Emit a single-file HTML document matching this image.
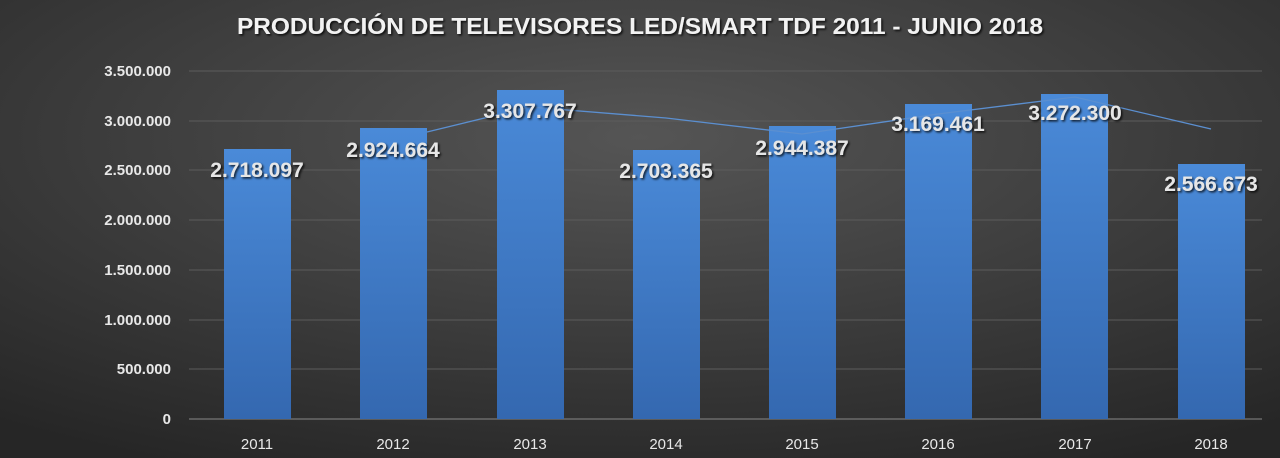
<!DOCTYPE html><html><head><style>body{margin:0;width:1280px;height:458px;overflow:hidden;background:#3a3a3a}</style></head><body>
<svg width="1280" height="458" xmlns="http://www.w3.org/2000/svg" font-family="Liberation Sans, sans-serif" style="display:block">
<defs>
<radialGradient id="bg" cx="0.5" cy="0.3" r="0.8"><stop offset="0" stop-color="#555"/><stop offset="1" stop-color="#262626"/></radialGradient>
<linearGradient id="bar" x1="0" y1="0" x2="0" y2="1"><stop offset="0" stop-color="#4a8ad8"/><stop offset="1" stop-color="#3468b0"/></linearGradient>
<filter id="sh"><feDropShadow dx="1.5" dy="1.5" stdDeviation="1" flood-color="#000" flood-opacity="0.8"/></filter>
</defs>
<rect width="1280" height="458" fill="url(#bg)"/>
<g stroke="#5c5c5c" stroke-width="1">
<line x1="189" x2="1262" y1="71" y2="71"/><line x1="189" x2="1262" y1="121" y2="121"/><line x1="189" x2="1262" y1="170" y2="170"/><line x1="189" x2="1262" y1="220" y2="220"/><line x1="189" x2="1262" y1="270" y2="270"/><line x1="189" x2="1262" y1="320" y2="320"/><line x1="189" x2="1262" y1="369" y2="369"/>
</g>
<line x1="189" x2="1262" y1="419" y2="419" stroke="#888"/>
<g font-size="15" font-weight="bold" fill="#e8e8e8" text-anchor="end">
<text x="171" y="76">3.500.000</text><text x="171" y="126">3.000.000</text><text x="171" y="175">2.500.000</text><text x="171" y="225">2.000.000</text><text x="171" y="275">1.500.000</text><text x="171" y="325">1.000.000</text><text x="171" y="374">500.000</text><text x="171" y="424">0</text>
</g>
<g fill="url(#bar)">
<rect x="224" y="149" width="67" height="270"/><rect x="360" y="128" width="67" height="291"/><rect x="497" y="90" width="67" height="329"/><rect x="633" y="150" width="67" height="269"/><rect x="769" y="126" width="67" height="293"/><rect x="905" y="104" width="67" height="315"/><rect x="1041" y="94" width="67" height="325"/><rect x="1178" y="164" width="67" height="255"/>
</g>
<polyline points="427,132 530,107 666,118 802,134 938,114 1075,97 1211,129" fill="none" stroke="#5b8fd0" stroke-width="1.3"/>
<g font-size="15" fill="#e8e8e8" text-anchor="middle">
<text x="257" y="449">2011</text><text x="393" y="449">2012</text><text x="530" y="449">2013</text><text x="666" y="449">2014</text><text x="802" y="449">2015</text><text x="938" y="449">2016</text><text x="1075" y="449">2017</text><text x="1211" y="449">2018</text>
</g>
<g font-size="21" font-weight="bold" fill="#e6e6e6" text-anchor="middle" filter="url(#sh)">
<text x="257" y="177">2.718.097</text><text x="393" y="157">2.924.664</text><text x="530" y="118">3.307.767</text><text x="666" y="178">2.703.365</text><text x="802" y="155">2.944.387</text><text x="938" y="131">3.169.461</text><text x="1075" y="120">3.272.300</text><text x="1211" y="191">2.566.673</text>
</g>
<text x="640" y="34" font-size="23" font-weight="bold" fill="#f2f2f2" text-anchor="middle" filter="url(#sh)" textLength="806" lengthAdjust="spacingAndGlyphs">PRODUCCIÓN DE TELEVISORES LED/SMART TDF 2011 - JUNIO 2018</text>
</svg>
</body></html>
